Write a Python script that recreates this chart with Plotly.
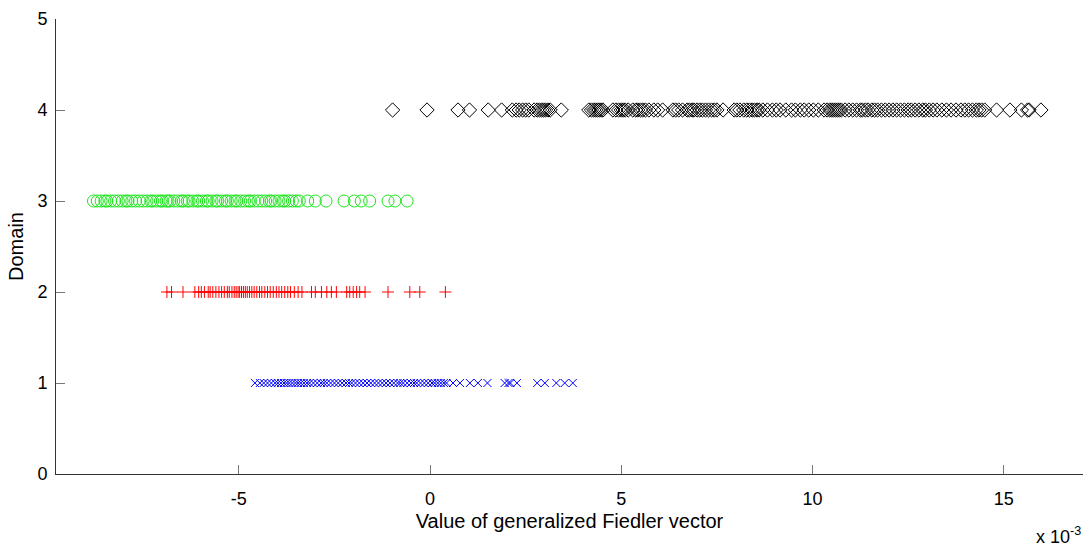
import plotly.graph_objects as go

# Values of the generalized Fiedler vector (in units of 1e-3), grouped by domain
domain4 = [-0.98, -0.08, 0.73, 1.03, 1.52, 1.87, 2.15, 2.25, 2.33, 2.42, 2.5, 2.58,
           2.72, 2.8, 2.86, 2.92, 2.97, 3.02, 3.08, 3.14, 3.43, 4.15, 4.22, 4.28, 4.33,
           4.38, 4.42, 4.47, 4.52, 4.78, 4.86, 4.93, 5.0, 5.05, 5.1, 5.18, 5.3, 5.38,
           5.43, 5.5, 5.56, 5.63, 5.72, 5.85, 5.95, 6.08, 6.35, 6.42, 6.5, 6.6, 6.72,
           6.78, 6.85, 6.9, 6.98, 7.05, 7.12, 7.2, 7.28, 7.36, 7.43, 7.5, 7.66, 7.95,
           8.02, 8.1, 8.2, 8.28, 8.35, 8.42, 8.48, 8.55, 8.6, 8.7, 8.82, 8.95, 9.05,
           9.15, 9.3, 9.45, 9.55, 9.68, 9.78, 9.9, 10.02, 10.15, 10.3, 10.38, 10.45,
           10.5, 10.55, 10.6, 10.65, 10.7, 10.75, 10.85, 10.95, 11.05, 11.15, 11.25,
           11.3, 11.38, 11.45, 11.55, 11.62, 11.7, 11.8, 11.9, 12.0, 12.1, 12.2, 12.3,
           12.4, 12.5, 12.58, 12.68, 12.78, 12.88, 12.95, 13.05, 13.15, 13.25, 13.38,
           13.5, 13.62, 13.75, 13.88, 13.98, 14.08, 14.18, 14.28, 14.35, 14.42, 14.5,
           14.81, 15.16, 15.46, 15.62, 15.66, 15.97]

domain3 = [-8.8, -8.7, -8.6, -8.5, -8.45, -8.35, -8.25, -8.15, -8.05, -7.95, -7.9,
           -7.8, -7.7, -7.6, -7.5, -7.4, -7.3, -7.25, -7.15, -7.05, -7.0, -6.9, -6.85,
           -6.8, -6.7, -6.6, -6.5, -6.45, -6.35, -6.3, -6.2, -6.1, -6.05, -5.95, -5.85,
           -5.8, -5.7, -5.6, -5.55, -5.45, -5.35, -5.3, -5.2, -5.1, -5.05, -4.95, -4.85,
           -4.75, -4.7, -4.6, -4.5, -4.4, -4.3, -4.2, -4.15, -4.05, -3.95, -3.85, -3.8,
           -3.7, -3.6, -3.5, -3.42, -3.2, -3.0, -2.72, -2.25, -1.98, -1.8, -1.58, -1.1,
           -0.92, -0.6]

domain2 = [-6.88, -6.76, -6.46, -6.15, -6.05, -5.98, -5.9, -5.8, -5.75, -5.68, -5.6,
           -5.52, -5.45, -5.38, -5.3, -5.25, -5.18, -5.12, -5.07, -5.02, -4.98, -4.93,
           -4.88, -4.83, -4.78, -4.72, -4.66, -4.6, -4.53, -4.46, -4.4, -4.32, -4.25,
           -4.18, -4.1, -4.02, -3.95, -3.88, -3.8, -3.72, -3.65, -3.55, -3.45, -3.35,
           -3.1, -3.0, -2.84, -2.7, -2.58, -2.45, -2.18, -2.1, -2.01, -1.92, -1.84,
           -1.7, -1.1, -0.53, -0.27, 0.4]

domain1 = [-4.58, -4.45, -4.35, -4.25, -4.15, -4.05, -3.98, -3.9, -3.82, -3.75, -3.68,
           -3.6, -3.52, -3.45, -3.38, -3.3, -3.22, -3.15, -3.05, -2.95, -2.85, -2.78,
           -2.7, -2.6, -2.5, -2.4, -2.3, -2.2, -2.12, -2.05, -1.95, -1.85, -1.75, -1.65,
           -1.55, -1.45, -1.35, -1.25, -1.15, -1.05, -0.95, -0.85, -0.78, -0.7, -0.6,
           -0.5, -0.42, -0.35, -0.25, -0.15, -0.05, 0.05, 0.12, 0.2, 0.28, 0.36, 0.43,
           0.6, 0.78, 1.04, 1.25, 1.5, 1.95, 2.05, 2.1, 2.27, 2.8, 3.0, 3.3, 3.52, 3.73]

x_ticks = [-5, 0, 5, 10, 15]
y_ticks = [0, 1, 2, 3, 4, 5]

series = [
    (domain4, 4, "diamond-open", "#000000", 11),
    (domain3, 3, "circle-open", "#1fe61f", 12),
    (domain2, 2, "cross-thin-open", "#ff0000", 8.5),
    (domain1, 1, "x-thin-open", "#0000ff", 8),
]

fig = go.Figure()
for vals, dom, sym, col, size in series:
    fig.add_trace(go.Scatter(
        x=vals, y=[dom] * len(vals), mode="markers",
        marker=dict(symbol=sym, size=size, color=col,
                    line=dict(color=col, width=1)),
        showlegend=False,
    ))

family = "Liberation Sans, Arial, sans-serif"
tick_font = dict(family=family, size=18, color="#000000")
title_font = dict(family=family, size=20, color="#000000")

fig.update_layout(
    width=1092, height=552,
    margin=dict(l=56, r=9, t=15, b=78),
    paper_bgcolor="white", plot_bgcolor="white",
    font=tick_font,
    xaxis=dict(
        range=[-9.78, 17.07], tickvals=x_ticks, ticktext=[str(v) for v in x_ticks],
        ticks="inside", ticklen=9, tickcolor="#777777", tickwidth=1,
        showline=True, linecolor="#333333", linewidth=1, mirror=False,
        showgrid=False, zeroline=False, ticklabelstandoff=8, tickfont=tick_font,
        title=dict(text="Value of generalized Fiedler vector", standoff=6, font=title_font),
    ),
    yaxis=dict(
        range=[0, 5], tickvals=y_ticks,
        ticks="inside", ticklen=9, tickcolor="#777777", tickwidth=1,
        showline=True, linecolor="#333333", linewidth=1, mirror=False,
        showgrid=False, zeroline=False, ticklabelstandoff=4, tickfont=tick_font,
        title=dict(text="Domain", standoff=8, font=title_font),
    ),
    annotations=[dict(
        text="x 10<sup>-3</sup>", xref="paper", yref="paper",
        x=1.0, y=-0.105, xanchor="right", yanchor="top",
        showarrow=False, font=tick_font,
    )],
)

fig.write_html("out.html")
